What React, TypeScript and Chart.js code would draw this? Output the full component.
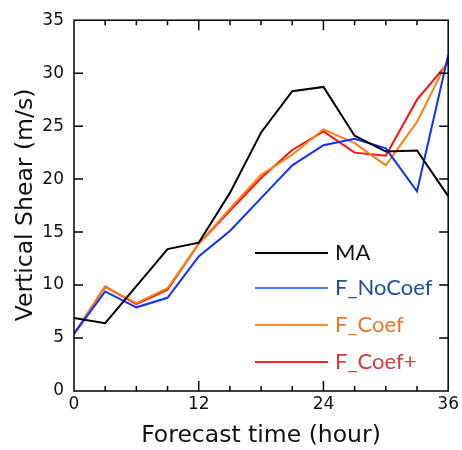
import React, { useEffect, useRef } from "react";
import { Chart, registerables } from "chart.js";

Chart.register(...registerables);

const hours = [0, 3, 6, 9, 12, 15, 18, 21, 24, 27, 30, 33, 36];
const maValues = [6.9, 6.4, 9.9, 13.4, 14.0, 18.7, 24.4, 28.3, 28.7, 24.1, 22.6, 22.7, 18.4];
const noCoefValues = [5.4, 9.4, 7.9, 8.8, 12.7, 15.1, 18.2, 21.3, 23.2, 23.8, 22.9, 18.85, 31.7];
const coefValues = [5.4, 9.8, 8.3, 9.7, 13.9, 17.2, 20.4, 22.3, 24.7, 23.4, 21.3, 25.4, 31.3];
const coefPlusValues = [5.4, 9.85, 8.2, 9.55, 13.9, 17.0, 20.1, 22.75, 24.5, 22.5, 22.2, 27.5, 31.0];

const seriesNames = ["MA", "F_NoCoef", "F_Coef", "F_Coef+"];
const lineColors = ["#000000", "#1030ff", "#ff7f10", "#ff1010"];
const legendLineColors = ["#000000", "#4a7cff", "#ff8a2a", "#ff2020"];
const legendTextColors = ["#111111", "#1f4f9a", "#e8772a", "#d83a3a"];

const xTitle = "Forecast time (hour)";
const yTitle = "Vertical Shear (m/s)";

const framePlugin = {
  id: "framePlugin",
  afterDraw(chart: any) {
    const { ctx, chartArea } = chart;
    const xs = chart.scales.x;
    const ys = chart.scales.y;
    const { left, right, top, bottom } = chartArea;
    ctx.save();
    ctx.strokeStyle = "#000";
    ctx.lineWidth = 1.5;
    ctx.strokeRect(left, top, right - left, bottom - top);
    ctx.beginPath();
    for (let h = 3; h < 36; h += 3) {
      const px = xs.getPixelForValue(h);
      const len = h % 12 === 0 ? 10 : 5;
      ctx.moveTo(px, bottom);
      ctx.lineTo(px, bottom - len);
      ctx.moveTo(px, top);
      ctx.lineTo(px, top + len);
    }
    for (let v = 5; v < 35; v += 5) {
      const py = ys.getPixelForValue(v);
      ctx.moveTo(left, py);
      ctx.lineTo(left + 9, py);
      ctx.moveTo(right, py);
      ctx.lineTo(right - 9, py);
    }
    ctx.stroke();

    // axis titles
    ctx.fillStyle = "#111";
    ctx.font = "23.5px 'DejaVu Sans'";
    ctx.textAlign = "center";
    ctx.textBaseline = "alphabetic";
    ctx.fillText(xTitle, 261, 442);
    ctx.translate(32, 205);
    ctx.rotate(-Math.PI / 2);
    ctx.fillText(yTitle, 0, 0);
    ctx.restore();

    // legend
    ctx.save();
    ctx.font = "22px Lato";
    ctx.textBaseline = "middle";
    ctx.textAlign = "left";
    const legendY = [253, 288, 325, 362];
    seriesNames.forEach((name, i) => {
      ctx.strokeStyle = legendLineColors[i];
      ctx.lineWidth = 2;
      ctx.beginPath();
      ctx.moveTo(255, legendY[i]);
      ctx.lineTo(328, legendY[i]);
      ctx.stroke();
      ctx.fillStyle = legendTextColors[i];
      ctx.fillText(name, 335, legendY[i]);
    });
    ctx.restore();
  },
};

export default function App() {
  const canvasRef = useRef<HTMLCanvasElement | null>(null);

  useEffect(() => {
    if (!canvasRef.current) return;
    const allValues = [maValues, noCoefValues, coefValues, coefPlusValues];
    const chart = new Chart(canvasRef.current, {
      type: "line",
      data: {
        datasets: allValues.map((vals, i) => ({
          label: seriesNames[i],
          data: hours.map((h, j) => ({ x: h, y: vals[j] })),
          borderColor: lineColors[i],
          backgroundColor: lineColors[i],
          borderWidth: 2,
          pointRadius: 0,
          tension: 0,
          fill: false,
        })),
      },
      options: {
        animation: false,
        responsive: false,
        devicePixelRatio: 1,
        layout: { padding: { top: 15, right: 11, left: 0, bottom: 0 } },
        plugins: {
          legend: { display: false },
          tooltip: { enabled: false },
        },
        scales: {
          x: {
            type: "linear",
            min: 0,
            max: 36,
            ticks: {
              stepSize: 12,
              color: "#111",
              font: { family: "DejaVu Sans", size: 17 },
              padding: 3,
              maxRotation: 0,
            },
            grid: { display: false, drawTicks: false },
            border: { display: false },
            afterFit(scale: any) {
              scale.height = 59;
            },
          },
          y: {
            min: 0,
            max: 35,
            ticks: {
              stepSize: 5,
              color: "#111",
              font: { family: "DejaVu Sans", size: 17 },
              padding: 10,
            },
            grid: { display: false, drawTicks: false },
            border: { display: false },
            afterFit(scale: any) {
              scale.width = 74;
            },
          },
        },
      },
      plugins: [framePlugin],
    });
    return () => chart.destroy();
  }, []);

  return (
    <div style={{ position: "absolute", left: 0, top: 0, width: 462, height: 450, background: "#fff" }}>
      <canvas ref={canvasRef} width={462} height={450} />
    </div>
  );
}
